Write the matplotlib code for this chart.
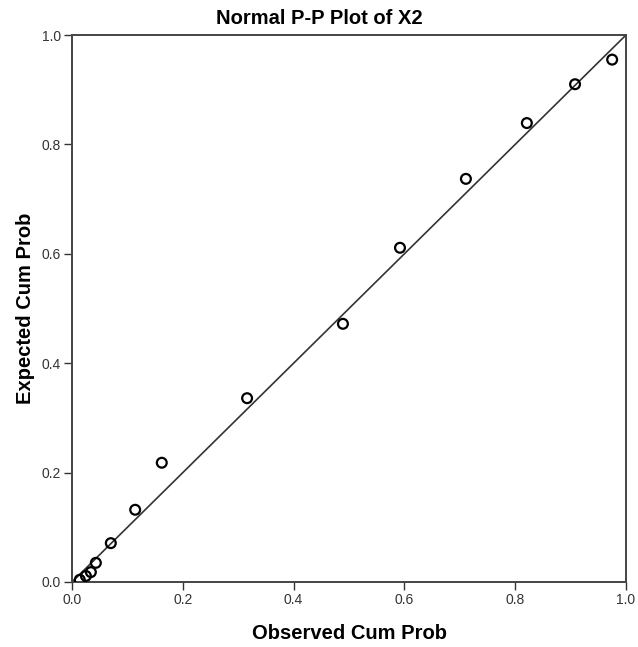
import numpy as np
import matplotlib.pyplot as plt

plt.rcParams['font.family'] = ['Liberation Sans', 'DejaVu Sans']

# Observed vs expected cumulative probabilities
observed = [0.014, 0.025, 0.034, 0.043, 0.070, 0.114, 0.162,
            0.316, 0.489, 0.592, 0.711, 0.821, 0.908, 0.975]
expected = [0.004, 0.011, 0.018, 0.035, 0.071, 0.132, 0.218,
            0.336, 0.472, 0.611, 0.737, 0.839, 0.910, 0.955]
ticks = [0.0, 0.2, 0.4, 0.6, 0.8, 1.0]

fig = plt.figure(figsize=(6.38, 6.47), dpi=100)
ax = fig.add_axes([0.1129, 0.1005, 0.8683, 0.8454])

# reference diagonal
ax.plot([0, 1], [0, 1], color='#333333', linewidth=1.2, zorder=2)
ax.scatter(observed, expected, s=50, facecolors='none', edgecolors='black',
           linewidths=1.6, zorder=3)

ax.set_xlim(0, 1)
ax.set_ylim(0, 1)
ax.set_xticks(ticks)
ax.set_yticks(ticks)
ax.set_xticklabels(['%.1f' % t for t in ticks])
ax.set_yticklabels(['%.1f' % t for t in ticks])
ax.tick_params(direction='out', length=6, width=1, colors='#333333',
               labelsize=10, labelcolor='#333333', pad=2)
for s in ax.spines.values():
    s.set_linewidth(1.4)
    s.set_color('#444444')

# title is centred on the figure, not the axes
fig.suptitle('Normal P-P Plot of X2', x=0.5, y=0.971, va='center',
             fontsize=14.5, fontweight='bold')
ax.set_xlabel('Observed Cum Prob', fontsize=14.5, fontweight='bold', labelpad=12)
ax.set_ylabel('Expected Cum Prob', fontsize=14.5, fontweight='bold', labelpad=5)

fig.savefig('out.png', dpi=100)
